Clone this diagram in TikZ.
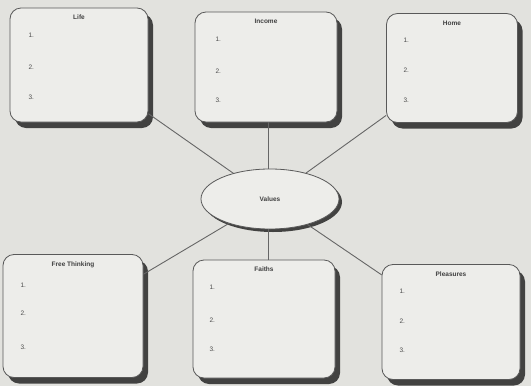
\documentclass[tikz,border=0pt]{standalone}
\usepackage{fontspec}
\setmainfont{Liberation Sans}
\usetikzlibrary{shapes.geometric,shadows}
\definecolor{bg}{HTML}{E2E2DE}
\definecolor{boxfill}{HTML}{EDEDEA}
\begin{document}
\begin{tikzpicture}[x=1pt,y=-1pt,
  box/.style={draw=black!65, line width=0.8pt, fill=boxfill, rounded corners=11pt, inner sep=0pt,
    drop shadow={shadow xshift=5pt, shadow yshift=-6pt, opacity=0.85, fill=black!85}},
  oval/.style={ellipse, draw=black!65, line width=0.8pt, fill=boxfill, inner sep=0pt,
    minimum width=138pt, minimum height=60pt,
    drop shadow={shadow xshift=3pt, shadow yshift=-3pt, opacity=0.85, fill=black!85}},
  ttl/.style={font=\fontsize{6.5}{7}\selectfont\bfseries, text=black!75, anchor=north},
  itm/.style={font=\fontsize{6.5}{7}\selectfont, text=black!70, anchor=west},
  link/.style={draw=black!60, line width=0.9pt}]
\fill[bg] (0,0) rectangle (531,386);
\useasboundingbox (0,0) rectangle (531,386);
\node[box, minimum width=138pt, minimum height=114pt] (tl) at (79,65) {};
\node[box, minimum width=142pt, minimum height=110pt] (tm) at (266,67) {};
\node[box, minimum width=131pt, minimum height=109pt] (tr) at (452,68) {};
\node[box, minimum width=140pt, minimum height=123pt] (bl) at (73,316) {};
\node[box, minimum width=142pt, minimum height=118pt] (bm) at (264,319) {};
\node[box, minimum width=138pt, minimum height=115pt] (br) at (451,322) {};
\node[oval] (v) at (270,199) {};
\node[font=\fontsize{6.5}{7}\selectfont\bfseries, text=black!75] (vt) at (v.center) {Values};
\draw[link] (v) -- (tl);
\draw[link] ([xshift=-2pt]v.north) -- ([xshift=-2pt]v.north |- tm.south);
\draw[link] (v) -- (tr);
\draw[link] (v) -- (bl);
\draw[link] ([xshift=-2pt]v.south) -- ([xshift=-2pt]v.south |- bm.north);
\draw[link] (v) -- (br);
% titles
\node[ttl] (tlt) at ([yshift=-4pt]tl.north) {Life};
\node[ttl] (tmt) at ([yshift=-4pt]tm.north) {Income};
\node[ttl] (trt) at ([yshift=-4pt]tr.north) {Home};
\node[ttl] (blt) at ([yshift=-4pt]bl.north) {Free Thinking};
\node[ttl] (bmt) at ([yshift=-4pt]bm.north) {Faiths};
\node[ttl] (brt) at ([yshift=-4pt]br.north) {Pleasures};
% items
\node[itm] (tl1) at (25,35) {1.};
\node[itm] (tl2) at (25,67) {2.};
\node[itm] (tl3) at (25,97) {3.};
\node[itm] (tm1) at (212,39) {1.};
\node[itm] (tm2) at (212,71) {2.};
\node[itm] (tm3) at (212,100) {3.};
\node[itm] (tr1) at (400,40) {1.};
\node[itm] (tr2) at (400,70) {2.};
\node[itm] (tr3) at (400,100) {3.};
\node[itm] (bl1) at (17,285) {1.};
\node[itm] (bl2) at (17,313) {2.};
\node[itm] (bl3) at (17,347) {3.};
\node[itm] (bm1) at (206,287) {1.};
\node[itm] (bm2) at (206,320) {2.};
\node[itm] (bm3) at (206,349) {3.};
\node[itm] (br1) at (396,291) {1.};
\node[itm] (br2) at (396,321) {2.};
\node[itm] (br3) at (396,350) {3.};
\end{tikzpicture}
\end{document}
